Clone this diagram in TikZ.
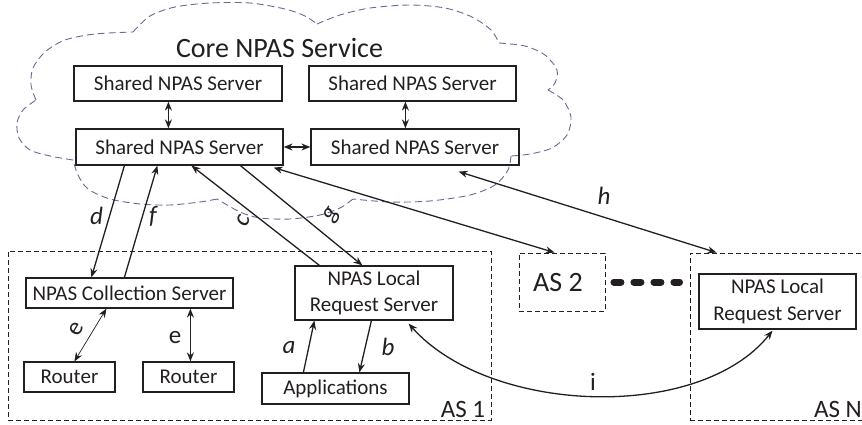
\documentclass[tikz,border=0pt]{standalone}
\usepackage{fontspec}
\setmainfont{Carlito}
\usetikzlibrary{arrows.meta,calc}
\definecolor{ink}{RGB}{35,31,32}
\definecolor{cloudc}{RGB}{105,105,150}
\begin{document}
\begin{tikzpicture}[x=1pt,y=-1pt,
  every node/.style={text=ink},
  box/.style={draw=ink,line width=1.2pt,inner sep=0pt,font=\fontsize{21}{26.5}\selectfont,align=center},
  asbox/.style={draw=ink,line width=0.9pt,dash pattern=on 5pt off 3pt},
  cloudline/.style={draw=cloudc,line width=0.9pt,dash pattern=on 7pt off 4pt},
  arr/.style={draw=ink,line width=1.3pt,-{Stealth[length=9pt,width=7pt]}},
  darr/.style={draw=ink,line width=1.3pt,{Stealth[length=9pt,width=7pt]}-{Stealth[length=9pt,width=7pt]}},
  lab/.style={font=\fontsize{25}{25}\selectfont\itshape,inner sep=0pt},
  labu/.style={font=\fontsize{25}{25}\selectfont,inner sep=0pt},
  big/.style={font=\fontsize{28}{30}\selectfont,inner sep=0pt}
]
\useasboundingbox (0,0) rectangle (862,425);

% cloud
\draw[cloudline] plot[smooth] coordinates {(133,32) (150,16) (175,7) (210,3) (250,3) (285,9) (305,16) (317,24)};
\draw[cloudline] plot[smooth] coordinates {(317,24) (340,15) (370,8) (410,5) (445,8) (472,17) (491,30) (499,43)};
\draw[cloudline] plot[smooth] coordinates {(499,43) (525,46) (545,55) (557,70) (555,83) (548,90)};
\draw[cloudline] plot[smooth] coordinates {(548,90) (563,100) (571,117) (567,135) (552,148) (530,154) (511,156)};
\draw[cloudline] plot[smooth] coordinates {(511,156) (508,170) (495,185) (470,195) (430,201) (390,202) (353,199)};
\draw[cloudline] plot[smooth] coordinates {(353,199) (340,208) (320,215) (290,219) (260,218) (240,212) (217,199)};
\draw[cloudline] plot[smooth] coordinates {(217,199) (200,202) (170,205) (140,204) (110,199) (88,189) (78,175) (73,160)};
\draw[cloudline] plot[smooth] coordinates {(73,160) (50,156) (30,150) (19,138) (17,123) (23,110) (36,100)};
\draw[cloudline] plot[smooth] coordinates {(36,100) (31,85) (33,68) (45,52) (65,40) (95,34) (133,32)};

\node[big] (core) at (279.5,48) {Core NPAS Service};

% shared servers
\node[box,minimum width=208pt,minimum height=35pt] (s1) at (178,83.5) {Shared NPAS Server};
\node[box,minimum width=207pt,minimum height=35pt] (s2) at (412.5,83.5) {Shared NPAS Server};
\node[box,minimum width=207pt,minimum height=36pt] (s3) at (179.5,147) {Shared NPAS Server};
\node[box,minimum width=208pt,minimum height=36pt] (s4) at (415,147) {Shared NPAS Server};

% AS boxes
\node[asbox,minimum width=483pt,minimum height=169pt,inner sep=0pt] (as1) at (249.5,335.5) {};
\node[asbox,minimum width=86pt,minimum height=58pt,inner sep=0pt] (as2) at (562,282) {};
\node[asbox,minimum width=210pt,minimum height=167pt,inner sep=0pt] (asN) at (795,336.5) {};

\node[box,minimum width=207pt,minimum height=30pt] (coll) at (129.5,293) {NPAS Collection Server};
\node[box,minimum width=91pt,minimum height=30pt] (r1) at (69.5,377) {Router};
\node[box,minimum width=91pt,minimum height=30pt] (r2) at (188.5,377) {Router};
\node[box,minimum width=158pt,minimum height=54pt] (lrs1) at (374,293) {NPAS Local\\Request Server};
\node[box,minimum width=147pt,minimum height=31pt] (app) at (335.5,388.5) {Applications};
\node[box,minimum width=157pt,minimum height=55pt] (lrsN) at (777.5,301.5) {NPAS Local\\Request Server};

\node[big] (as2t) at (558,283) {AS 2};
\node[labu] (as1t) at (463,409) {AS 1};
\node[labu] (asNt) at (838,409) {AS N};

% dots between AS 2 and AS N
\coordinate (dA) at ($(as2.east)+(8.5,0)$);
\coordinate (dB) at ($(as2.east -| asN.west)+(-10,0)$);
\draw[ink,line width=7pt,line cap=round,dash pattern=on 7pt off 13pt] (dA) -- (dB);

% arrows in the core
\draw[darr] ([xshift=95pt]s1.south west) -- ([xshift=93pt]s3.north west);
\draw[darr] ([xshift=97pt]s2.south west) -- ([xshift=95pt]s4.north west);
\draw[darr] (s3.east) -- (s4.west);

% d, f
\draw[arr] ([xshift=49pt]s3.south west) -- node[lab,pos=0.45,left=6pt] {d} ([xshift=66pt]coll.north west);
\draw[arr] ([xshift=99pt]coll.north west) -- node[lab,pos=0.55,right=6pt] {f} ([xshift=82pt]s3.south west);
% c, g
\draw[arr] ([xshift=25pt]lrs1.north west) -- ([xshift=116pt]s3.south west);
\draw[arr] ([xshift=165pt]s3.south west) -- ([xshift=68pt]lrs1.north west);
\node[lab,rotate=70] (lc) at (243,221) {c};
\node[lab,rotate=60] (lg) at (332,215) {g};
% to AS 2 and h
\draw[darr] ([xshift=-10pt,yshift=-2pt]s3.south east) -- ([xshift=36pt]as2.north west);
\draw[darr] ([xshift=-61pt,yshift=-6pt]s4.south east) -- ([xshift=27pt]asN.north west);
\node[lab] (lh) at (604,196) {h};
% a, b
\draw[arr] ([xshift=42pt]app.north west) -- ([xshift=20pt]lrs1.south west);
\draw[arr] ([xshift=77pt]lrs1.south west) -- ([xshift=98pt]app.north west);
\node[lab] (la) at (289,348) {a};
\node[lab] (lb) at (388,347) {b};
% e
\draw[ink,line width=0.7pt,{Stealth[length=9pt,width=7pt]}-{Stealth[length=9pt,width=7pt]}] ([xshift=81pt]coll.south west) -- ([xshift=51pt]r1.north west);
\draw[darr] ([xshift=165pt]coll.south west) -- ([xshift=48pt]r2.north west);
\node[labu,rotate=60] (le1) at (76,329) {e};
\node[labu] (le2) at (175,338) {e};
% i
\draw[darr] ([xshift=-45pt,yshift=-3pt]lrs1.south east) .. controls (490,415) and (700,422) .. ([xshift=-5pt,yshift=-1pt]lrsN.south);
\node[labu] (li) at (593,382) {i};
\end{tikzpicture}
\end{document}
